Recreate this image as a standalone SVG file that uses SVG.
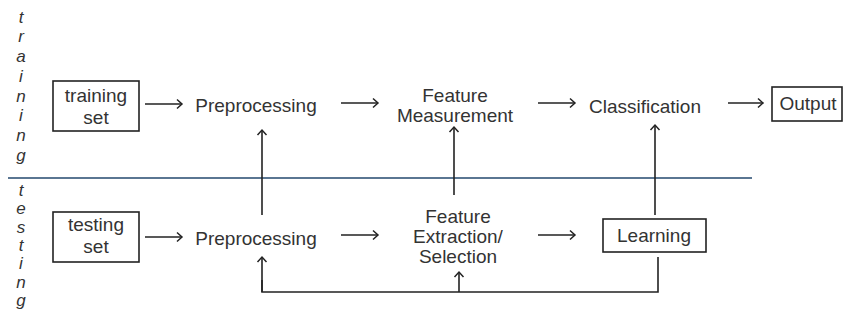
<svg xmlns="http://www.w3.org/2000/svg" width="845" height="322" viewBox="0 0 845 322">
<defs>
<marker id="ah" markerWidth="12" markerHeight="12" refX="9" refY="6" orient="auto" markerUnits="userSpaceOnUse">
<polyline points="4,1.5 9,6 4,10.5" fill="none" stroke="#222" stroke-width="1.5"/>
</marker>
<style>
.t{font-family:"Liberation Sans",Arial,sans-serif;font-size:19px;fill:#333;text-anchor:middle}
.v{font-family:"Liberation Sans",Arial,sans-serif;font-size:17px;fill:#333;font-style:italic;text-anchor:middle}
.b{fill:#fff;stroke:#222;stroke-width:1.6}
.c{fill:none;stroke:#222;stroke-width:1.6}
.a{fill:none;stroke:#222;stroke-width:1.6;marker-end:url(#ah)}
</style>
</defs>
<rect width="845" height="322" fill="#fff"/>
<g id="side-labels">
<text class="v" x="21" y="23">t</text>
<text class="v" x="21" y="42">r</text>
<text class="v" x="21" y="62">a</text>
<text class="v" x="21" y="82">i</text>
<text class="v" x="21" y="102">n</text>
<text class="v" x="21" y="121">i</text>
<text class="v" x="21" y="141">n</text>
<text class="v" x="21" y="161">g</text>
<text class="v" x="21" y="196">t</text>
<text class="v" x="21" y="214">e</text>
<text class="v" x="21" y="233">s</text>
<text class="v" x="21" y="251">t</text>
<text class="v" x="21" y="269">i</text>
<text class="v" x="21" y="288">n</text>
<text class="v" x="21" y="306">g</text>
</g>
<g id="divider">
<line x1="8" y1="178" x2="752" y2="178" stroke="#5a7692" stroke-width="2"/>
</g>
<g id="connectors">
<line class="a" x1="145" y1="104" x2="182" y2="104"/>
<line class="a" x1="341" y1="103" x2="378" y2="103"/>
<line class="a" x1="538" y1="103" x2="575" y2="103"/>
<line class="a" x1="728" y1="103" x2="763" y2="103"/>
<line class="a" x1="145" y1="237" x2="182" y2="237"/>
<line class="a" x1="341" y1="235" x2="378" y2="235"/>
<line class="a" x1="538" y1="235" x2="575" y2="235"/>
<line class="a" x1="262" y1="215" x2="262" y2="130"/>
<line class="a" x1="454" y1="195" x2="454" y2="127"/>
<line class="a" x1="655" y1="215" x2="655" y2="125"/>
<polyline class="c" points="658,257 658,292 262,292 262,280"/>
<line class="a" x1="262" y1="292" x2="262" y2="257"/>
<line class="a" x1="459" y1="292" x2="459" y2="272"/>
</g>
<g id="training-set">
<rect class="b" x="53" y="81" width="86" height="50"/>
<text class="t" x="96" y="102">training</text>
<text class="t" x="96" y="124">set</text>
</g>
<g id="preprocessing-train">
<text class="t" x="256" y="112">Preprocessing</text>
</g>
<g id="feature-measurement">
<text class="t" x="455" y="102">Feature</text>
<text class="t" x="455" y="122">Measurement</text>
</g>
<g id="classification">
<text class="t" x="645" y="113">Classification</text>
</g>
<g id="output">
<rect class="b" x="772" y="87" width="70" height="34"/>
<text class="t" x="808" y="110">Output</text>
</g>
<g id="testing-set">
<rect class="b" x="53" y="212" width="86" height="50"/>
<text class="t" x="96" y="231">testing</text>
<text class="t" x="96" y="253">set</text>
</g>
<g id="preprocessing-test">
<text class="t" x="256" y="245">Preprocessing</text>
</g>
<g id="feature-extraction">
<text class="t" x="458" y="223">Feature</text>
<text class="t" x="458" y="243">Extraction/</text>
<text class="t" x="458" y="263">Selection</text>
</g>
<g id="learning">
<rect class="b" x="603" y="219" width="103" height="33"/>
<text class="t" x="654" y="242">Learning</text>
</g>
</svg>
